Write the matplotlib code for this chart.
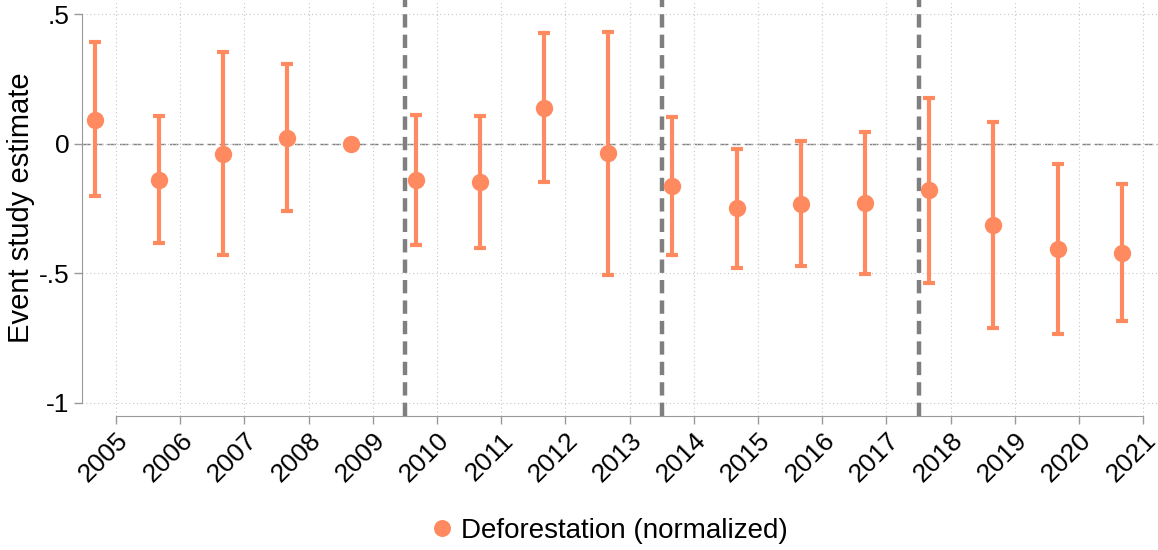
import matplotlib
matplotlib.use("Agg")
import matplotlib.pyplot as plt
from matplotlib.lines import Line2D
import numpy as np

plt.rcParams['font.family'] = ['Liberation Sans', 'DejaVu Sans']

years = [2005, 2006, 2007, 2008, 2009, 2010, 2011, 2012, 2013,
         2014, 2015, 2016, 2017, 2018, 2019, 2020, 2021]
estimate = [0.094, -0.139, -0.039, 0.024, 0.0, -0.140, -0.148, 0.140, -0.037,
            -0.163, -0.248, -0.232, -0.228, -0.179, -0.314, -0.408, -0.421]
ci_upper = [0.393, 0.109, 0.354, 0.310, 0.0, 0.111, 0.107, 0.429, 0.434,
            0.102, -0.018, 0.012, 0.045, 0.179, 0.084, -0.078, -0.157]
ci_lower = [-0.203, -0.385, -0.429, -0.260, 0.0, -0.391, -0.404, -0.149, -0.507,
            -0.430, -0.479, -0.474, -0.502, -0.537, -0.710, -0.735, -0.685]
event_lines = [2009.5, 2013.5, 2017.5]
ytick_vals = [-1, -0.5, 0, 0.5]
ytick_labels = ['-1', '-.5', '0', '.5']
series_label = 'Deforestation (normalized)'

color = '#FF8A60'
gray = '#7f7f7f'
offset = -1/3

fig = plt.figure(figsize=(11.58, 5.5), dpi=100)
ax = fig.add_axes([0.0708, 0.2436, 1 - 0.0708, 0.7564])

x = np.array(years) + offset
est = np.array(estimate)
up = np.array(ci_upper)
lo = np.array(ci_lower)
has_ci = up != lo

ax.errorbar(x[has_ci], est[has_ci], yerr=[est[has_ci] - lo[has_ci], up[has_ci] - est[has_ci]],
            fmt='none', ecolor=color, elinewidth=3.0, capsize=4.3, capthick=3.0, zorder=3)
ax.plot(x, est, 'o', color=color, markersize=12.5, zorder=4, markeredgewidth=0)

ax.axhline(0, color=gray, lw=1.0, ls=(0, (6, 3)), zorder=1)
for v in event_lines:
    ax.axvline(v, color=gray, lw=3.2, ls=(0, (3, 1.6)), zorder=2)

ax.set_xlim(2004.47, 2021.23)
ax.set_ylim(-1.052, 0.556)

ax.set_xticks(years)
ax.set_xticklabels([str(y) for y in years], rotation=45, ha='right', rotation_mode='anchor', fontsize=19)
ax.set_yticks(ytick_vals)
ax.set_yticklabels(ytick_labels, fontsize=19)
ax.tick_params(axis='both', length=6, width=1, color='#999999', direction='out', pad=3)

ax.grid(True, color='#c8c8c8', ls=(0, (1, 2.5)), lw=0.8, zorder=0)

for s in ['top', 'right']:
    ax.spines[s].set_visible(False)
ax.spines['left'].set_bounds(-1, 0.5)
ax.spines['bottom'].set_bounds(2005, 2021)
ax.spines['left'].set_color('#999999')
ax.spines['bottom'].set_color('#999999')

ax.set_ylabel('Event study estimate', fontsize=21)
ax.yaxis.set_label_coords(-0.0437, 0.5)

handle = Line2D([], [], marker='o', color=color, ls='none', markersize=12.2, markeredgewidth=0)
fig.legend([handle], [series_label], loc='center', bbox_to_anchor=(0.5263, 0.0345),
           frameon=False, fontsize=20, handlelength=0.8, handletextpad=0.3,
           borderpad=0, borderaxespad=0)

fig.savefig('out.png', dpi=100)
